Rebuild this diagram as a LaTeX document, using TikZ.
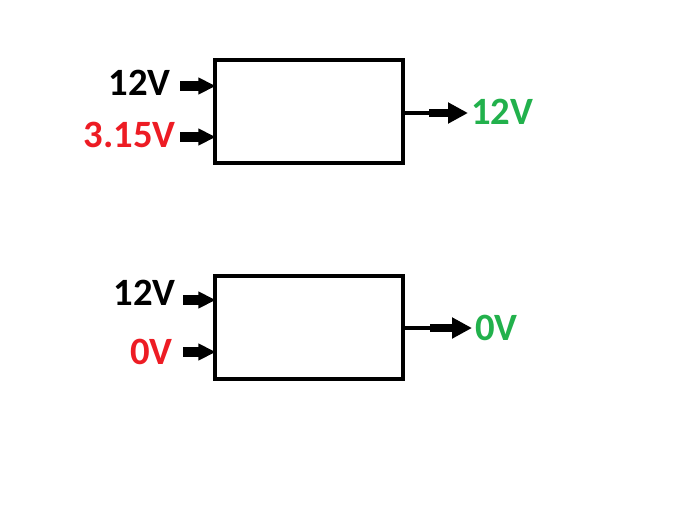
\documentclass[tikz,border=0pt]{standalone}
\usepackage{fontspec}
\setmainfont{Carlito}
\usetikzlibrary{arrows.meta}
\definecolor{pred}{RGB}{237,28,36}
\definecolor{pgreen}{RGB}{34,177,76}
\begin{document}
\begin{tikzpicture}[x=0.75pt,y=-0.75pt,
  blk/.style={draw=black,line width=3pt,minimum width=141pt,minimum height=77pt,inner sep=0pt},
  lbl/.style={font=\bfseries\fontsize{29}{32}\selectfont,inner sep=0pt},
  inarrow/.style={line width=7pt,-{Triangle[length=13pt,width=12pt]},shorten >=-2pt},
  outarrow/.style={line width=6.5pt,-{Triangle[length=15pt,width=15pt]}},
  thinline/.style={line width=2.5pt}]
\useasboundingbox (0,0) rectangle (699,508);
\node[blk] (b1) at (309,111.5) {};
\node[blk] (b2) at (309,327.5) {};
% top inputs
\node[lbl,anchor=east] (t1) at (171,83) {12V};
\node[lbl,anchor=east,text=pred] (t2) at (176,135) {3.15V};
\coordinate (i1) at (180,86);
\coordinate (i2) at (180,137);
\draw[inarrow] (i1) -- (b1.west |- i1);
\draw[inarrow] (i2) -- (b1.west |- i2);
% top output
\coordinate (o1a) at (429,113);
\coordinate (o1b) at (468,113);
\draw[thinline] (b1.east |- o1a) -- (o1a);
\draw[outarrow] (o1a) -- (o1b);
\node[lbl,anchor=west,text=pgreen] (t3) at (471,112) {12V};
% bottom inputs
\node[lbl,anchor=east] (t4) at (176,293) {12V};
\node[lbl,anchor=east,text=pred] (t5) at (173,352) {0V};
\coordinate (i3) at (183,300);
\coordinate (i4) at (183,352);
\draw[inarrow] (i3) -- (b2.west |- i3);
\draw[inarrow] (i4) -- (b2.west |- i4);
% bottom output
\coordinate (o2a) at (430,328);
\coordinate (o2b) at (472,328);
\draw[thinline] (b2.east |- o2a) -- (o2a);
\draw[outarrow] (o2a) -- (o2b);
\node[lbl,anchor=west,text=pgreen] (t6) at (475,328) {0V};
\end{tikzpicture}
\end{document}
